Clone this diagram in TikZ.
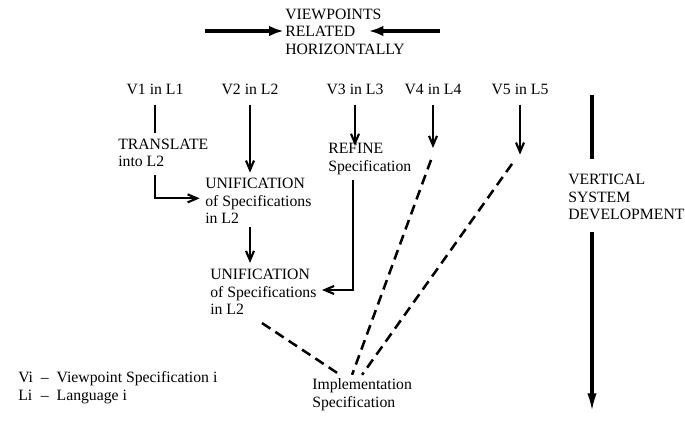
\documentclass[tikz,border=0pt]{standalone}
\usepackage{fontspec}
\setmainfont{Liberation Serif}
\usetikzlibrary{arrows.meta}

\begin{document}
\begin{tikzpicture}[x=0.75pt, y=-0.75pt,
    lbl/.style={inner sep=0pt, align=left, font=\fontsize{11.8}{13.2}\selectfont},
    plain/.style={line width=1.6pt},
    flow/.style={line width=1.6pt, -{Straight Barb[length=7pt,width=6pt,line width=1.6pt]}},
    wide/.style={line width=3pt, -{Latex[length=11pt,width=8pt]}},
    tall/.style={line width=2.4pt, -{Latex[length=14pt,width=7pt]}},
    dashline/.style={line width=1.9pt, dash pattern=on 7.5pt off 4.5pt}]
  \useasboundingbox (0,0) rectangle (685,425);

  % horizontal relation
  \node[lbl, anchor=west] (vp)  at (285,14) {VIEWPOINTS};
  \node[lbl, anchor=west] (rel) at (285,31) {RELATED};
  \node[lbl, anchor=west] (hor) at (285,49) {HORIZONTALLY};
  \coordinate (hl) at (205,31);
  \coordinate (hr) at (440,31);
  \draw[wide] (hl) -- ([xshift=-1pt]rel.west);
  \draw[wide] (hr) -- ([xshift=10pt]rel.east);

  % viewpoints
  \node[lbl] (v1) at (155,89) {V1 in L1};
  \node[lbl] (v2) at (250,89) {V2 in L2};
  \node[lbl] (v3) at (355,89) {V3 in L3};
  \node[lbl] (v4) at (433,89) {V4 in L4};
  \node[lbl] (v5) at (520,89) {V5 in L5};

  \node[lbl, anchor=west] (trans)  at (118,153) {TRANSLATE\\into L2};
  \node[lbl, anchor=west] (unifa)  at (205,201) {UNIFICATION\\of Specifications\\in L2};
  \node[lbl, anchor=west] (refine) at (328,159) {REFINE\\Specification};
  \node[lbl, anchor=west] (unifb)  at (210,292) {UNIFICATION\\of Specifications\\in L2};
  \node[lbl, anchor=west] (impl)   at (312,395) {Implementation\\Specification};

  \draw[plain] ([yshift=-7.5pt]v1.south) -- ([yshift=4pt]v1.south |- trans.north);
  \draw[flow] ([yshift=-6pt]v1.south |- trans.south) |- ([xshift=-4pt,yshift=2pt]unifa.west);
  \draw[flow] ([yshift=-7.5pt]v2.south) -- ([yshift=4pt]v2.south |- unifa.north);
  \draw[flow] ([yshift=-2pt]v2.south |- unifa.south) -- ([yshift=4.5pt]v2.south |- unifb.north);
  \draw[flow] ([yshift=-7.5pt]v3.south) -- ([yshift=-2pt]v3.south |- refine.north);
  \draw[flow] ([xshift=-1.5pt,yshift=-4pt]v3.south |- refine.south) |- ([xshift=4pt,yshift=1.5pt]unifb.east);

  \coordinate (v4e) at ([yshift=-40pt]v4.south);
  \coordinate (v5e) at ([yshift=-45pt]v5.south);
  \draw[flow] ([yshift=-7.5pt]v4.south) -- (v4e);
  \draw[flow] ([yshift=-7.5pt]v5.south) -- (v5e);

  % towards the implementation
  \draw[dashline] ([xshift=-1.5pt,yshift=-9pt]v4e) -- ([xshift=-7.5pt,yshift=3pt]impl.north);
  \draw[dashline] ([xshift=-6pt,yshift=-7pt]v5e) -- ([xshift=0pt,yshift=3pt]impl.north);
  \draw[dashline] ([xshift=-1pt,yshift=-6pt]unifb.south) -- ([xshift=-16.5pt,yshift=3pt]impl.north);

  % legend
  \node[lbl, anchor=west] (legend) at (18,388)
    {\begin{tabular}{@{}l@{\ \ --\ \ }l@{}}Vi & Viewpoint Specification i\\ Li & Language i\end{tabular}};

  % vertical development
  \node[lbl, anchor=west] (vsd) at (568,197) {VERTICAL\\SYSTEM\\DEVELOPMENT};
  \coordinate (vtop) at (592,95);
  \coordinate (vbot) at (592,412);
  \draw[line width=2.4pt] (vtop) -- ([yshift=11pt]vtop |- vsd.north);
  \draw[tall] ([yshift=-9pt]vtop |- vsd.south) -- (vbot);
\end{tikzpicture}
\end{document}
